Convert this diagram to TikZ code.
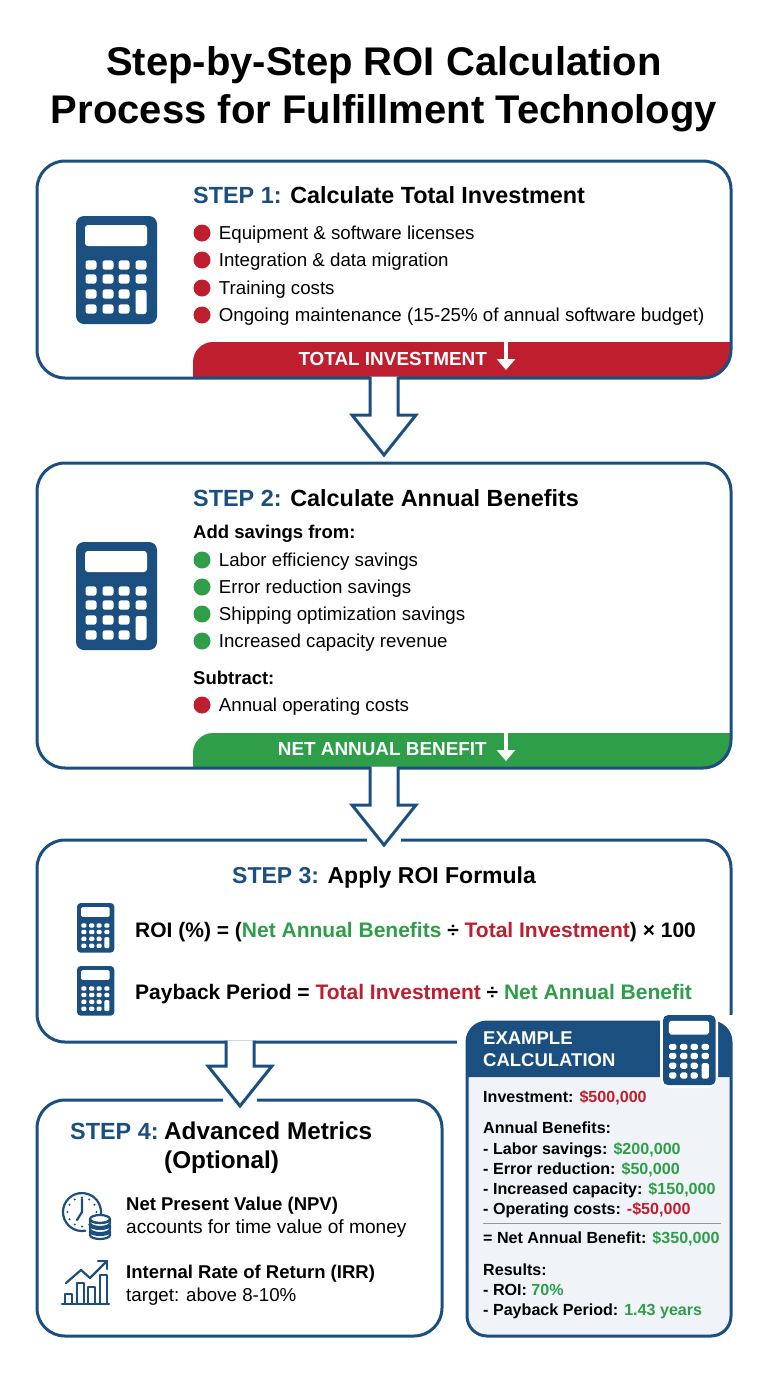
\documentclass[tikz,border=0pt]{standalone}
\usepackage{fontspec}
\setmainfont{Liberation Sans}
\usetikzlibrary{positioning,calc,arrows.meta}
\definecolor{roiBlue}{RGB}{26, 79, 128}
\definecolor{roiRed}{RGB}{190, 30, 45}
\definecolor{roiGreen}{RGB}{46, 158, 72}
\definecolor{roiPanel}{RGB}{240, 244, 248}
\definecolor{roiRule}{RGB}{150, 150, 150}
\tikzset{
  stepbox/.style={draw=roiBlue, line width=3pt, rounded corners=28pt, minimum width=694pt, inner sep=0pt, outer sep=0pt},
  headtext/.style={font=\fontsize{23.4}{28}\selectfont\bfseries, anchor=west, inner sep=0pt, text height=18pt, text depth=5pt},
  itemtext/.style={font=\fontsize{18.7}{22}\selectfont, anchor=west, inner sep=0pt, text height=14pt, text depth=4pt},
  boldtext/.style={itemtext, font=\fontsize{18.5}{22}\selectfont\bfseries},
  formulatext/.style={itemtext, font=\fontsize{21}{26}\selectfont\bfseries},
  exampletext/.style={itemtext, font=\fontsize{16.1}{18}\selectfont\bfseries, text height=12pt, text depth=3pt},
  bandtext/.style={boldtext, font=\fontsize{18.9}{22}\selectfont\bfseries, text=white, anchor=east},
  bandarrow/.style={draw=white, line width=3.5pt, -{Triangle[length=11pt, width=18pt]}},
  flowarrow/.style={draw=roiBlue, fill=white, line width=3pt, miter limit=10},
  reddot/.style={circle, fill=roiRed, minimum size=17pt, inner sep=0pt},
  greendot/.style={circle, fill=roiGreen, minimum size=17pt, inner sep=0pt},
  iconline/.style={draw=roiBlue, line width=2.2pt, line cap=round, line join=round},
  calculator/.pic={
    \begin{scope}[scale=#1]
      \fill[roiBlue, rounded corners=#1*8pt] (0,0) rectangle (81,108);
      \fill[white, rounded corners=#1*3pt] (9,9) rectangle (71,30);
      \foreach \cx in {15,32,48,65}
        \foreach \cy in {49,63}
          \fill[white, rounded corners=#1*2.5pt] (\cx-5.5,\cy-4.7) rectangle (\cx+5.5,\cy+4.7);
      \foreach \cx in {15,32,48}
        \foreach \cy in {78,93}
          \fill[white, rounded corners=#1*2.5pt] (\cx-5.5,\cy-4.7) rectangle (\cx+5.5,\cy+4.7);
      \fill[white, rounded corners=#1*2.5pt] (59.5,74) rectangle (70.5,98);
    \end{scope}
  },
  clockicon/.pic={
    \draw[iconline] (80:19) arc[start angle=80, end angle=365, radius=19];
    \foreach \a in {0,30,...,330}
      \fill[roiBlue] (\a:14.5) circle (1.1);
    \draw[iconline] (0,-13) -- (0,0) -- (-5,8);
    \fill[white] (7,3) rectangle (29,26);
    \foreach \cy in {19,13,7}
      \draw[iconline, fill=white] (8,\cy) -- (8,\cy+4) arc[start angle=180, end angle=0, x radius=10, y radius=4] -- (28,\cy) arc[start angle=0, end angle=180, x radius=10, y radius=4];
    \draw[iconline] (18,7) ellipse (10 and 4);
  },
  charticon/.pic={
    \draw[iconline] (0,0) -- (47,0);
    \foreach \bx/\by in {3/10, 15/21, 26/17, 38/29}
      \draw[iconline] (\bx,0) |- (\bx+7,-\by) -- (\bx+7,0);
    \draw[iconline] (4,-21) -- (19,-34) -- (28,-26) -- (45,-43);
    \draw[iconline] (36,-43) -- (45,-43) -- (45,-35);
  },
}
\newcommand{\blockarrow}[2]{
  \fill[white] ($(#2)+(-17,-8)$) rectangle ($(#2)+(17,2)$);
  \draw[flowarrow] ($(#1.south -| #2)+(-14,-1.5)$) |- ($(#2)+(-32,-40)$) -- (#2) -- ($(#2)+(32,-40)$) -| ($(#1.south -| #2)+(14,-1.5)$);
}

\begin{document}
\begin{tikzpicture}[x=1pt, y=-1pt]
    \useasboundingbox (0,0) rectangle (768,1376);
    \fill[white] (0,0) rectangle (768,1376);

    \node[font=\fontsize{40}{48}\selectfont\bfseries, align=center, inner sep=0pt] (title) at (384,89) {Step-by-Step ROI Calculation\\Process for Fulfillment Technology};

    % result bands
    \fill[roiRed] (193,378) {[rounded corners=20pt] -- (193,342)} -- (731,342) {[rounded corners=28pt] -- (731,378)} -- cycle;
    \fill[roiGreen] (193,768) {[rounded corners=20pt] -- (193,733)} -- (731,733) {[rounded corners=28pt] -- (731,768)} -- cycle;

    % step boxes
    \node[stepbox, minimum height=217pt] (box1) at (384,269.5) {};
    \node[stepbox, minimum height=305pt, below=85pt of box1] (box2) {};
    \node[stepbox, minimum height=202pt, below=72pt of box2] (box3) {};
    \node[stepbox, minimum width=405pt, minimum height=236pt, anchor=north west] (box4) at (37,1100) {};

    % step 1
    \pic at (76,216) {calculator=1};
    \node[headtext] (head1) at (193,197) {\textcolor{roiBlue}{STEP 1:} Calculate Total Investment};
    \foreach \y/\t in {233/Equipment \& software licenses, 260/Integration \& data migration, 288/Training costs, 315/Ongoing maintenance (15-25\% of annual software budget)} {
      \node[reddot] (dot\y) at (202,\y) {};
      \node[itemtext, right=8pt of dot\y, yshift=-1.5pt] (item\y) {\t};
    }
    \node[bandtext] (total) at (487,360) {TOTAL INVESTMENT};
    \coordinate (total1) at (506,342);
    \coordinate (total2) at (506,370);
    \draw[bandarrow] (total1) -- (total2);

    % step 2
    \pic at (76,542) {calculator=1};
    \node[headtext] (head2) at (193,500) {\textcolor{roiBlue}{STEP 2:} Calculate Annual Benefits};
    \node[boldtext] (add) at (193,533) {Add savings from:};
    \foreach \y/\t in {560/Labor efficiency savings, 587/Error reduction savings, 614/Shipping optimization savings, 641/Increased capacity revenue} {
      \node[greendot] (dot\y) at (202,\y) {};
      \node[itemtext, right=8pt of dot\y, yshift=-1.5pt] (item\y) {\t};
    }
    \node[boldtext] (subtract) at (193,679) {Subtract:};
    \node[reddot] (dot705) at (202,705) {};
    \node[itemtext, right=8pt of dot705, yshift=-1.5pt] (item705) {Annual operating costs};
    \node[bandtext] (net) at (487,750) {NET ANNUAL BENEFIT};
    \coordinate (net1) at (506,733);
    \coordinate (net2) at (506,761);
    \draw[bandarrow] (net1) -- (net2);

    % step 3
    \node[headtext, font=\fontsize{23}{28}\selectfont\bfseries] (head3) at (232,877) {\textcolor{roiBlue}{STEP 3:} Apply ROI Formula};
    \pic at (77,903) {calculator=0.46};
    \pic at (77,966) {calculator=0.46};
    \node[formulatext] (roi) at (135,932) {ROI (\%) = (\textcolor{roiGreen}{Net Annual Benefits} ÷ \textcolor{roiRed}{Total Investment}) × 100};
    \node[formulatext] (payback) at (135,994) {Payback Period = \textcolor{roiRed}{Total Investment} ÷ \textcolor{roiGreen}{Net Annual Benefit}};

    % step 4
    \node[headtext, text=roiBlue] (head4) at (70,1133) {STEP 4:};
    \node[headtext, font=\fontsize{24.3}{28}\selectfont\bfseries] (metrics) at (164,1133) {Advanced Metrics};
    \node[headtext, font=\fontsize{24.3}{28}\selectfont\bfseries] (optional) at (164,1162) {(Optional)};
    \pic at (82,1212) {clockicon};
    \pic at (62,1304) {charticon};
    \node[boldtext] (npv) at (126,1205) {Net Present Value (NPV)};
    \node[itemtext, font=\fontsize{19.1}{22}\selectfont] (npvnote) at (126,1228) {accounts for time value of money};
    \node[boldtext] (irr) at (126,1273) {Internal Rate of Return (IRR)};
    \node[itemtext] (irrnote) at (126,1296) {target: above 8-10\%};

    % flow arrows
    \coordinate (tip1) at (384,455);
    \coordinate (tip2) at (384,845);
    \coordinate (tip3) at (240,1106);
    \blockarrow{box1}{tip1}
    \blockarrow{box2}{tip2}
    \blockarrow{box3}{tip3}

    % example panel
    \fill[white] (457,1015) rectangle (745,1345);
    \node[draw=roiBlue, fill=roiPanel, line width=3pt, rounded corners=20pt, minimum width=264pt, minimum height=314pt, inner sep=0pt, outer sep=0pt, anchor=north west] (panel) at (467,1022) {};
    \fill[roiBlue] (467,1077) {[rounded corners=20pt] -- (467,1022)} {[rounded corners=20pt] -- (731,1022)} -- (731,1077) -- cycle;
    \node[boldtext, text=white] (extitle1) at (483,1039) {EXAMPLE};
    \node[boldtext, text=white] (extitle2) at (483,1061) {CALCULATION};
    \fill[white, rounded corners=10pt] (660,1012) rectangle (718,1088);
    \pic at (663,1015) {calculator=0.65};
    \foreach \y/\t in {1098/{Investment: \textcolor{roiRed}{\$500,000}},
        1129/{Annual Benefits:},
        1150/{- Labor savings: \textcolor{roiGreen}{\$200,000}},
        1170/{- Error reduction: \textcolor{roiGreen}{\$50,000}},
        1190/{- Increased capacity: \textcolor{roiGreen}{\$150,000}},
        1210/{- Operating costs: \textcolor{roiRed}{-\$50,000}},
        1239/{= Net Annual Benefit: \textcolor{roiGreen}{\$350,000}},
        1271/{Results:},
        1291/{- ROI: \textcolor{roiGreen}{70\%}},
        1311/{- Payback Period: \textcolor{roiGreen}{1.43 years}}} {
      \node[exampletext] (line\y) at (483,\y) {\t};
    }
    \coordinate (rule1) at (483,1223);
    \coordinate (rule2) at (721,1223);
    \draw[roiRule, line width=0.8pt] (rule1) -- (rule2);
\end{tikzpicture}
\end{document}
